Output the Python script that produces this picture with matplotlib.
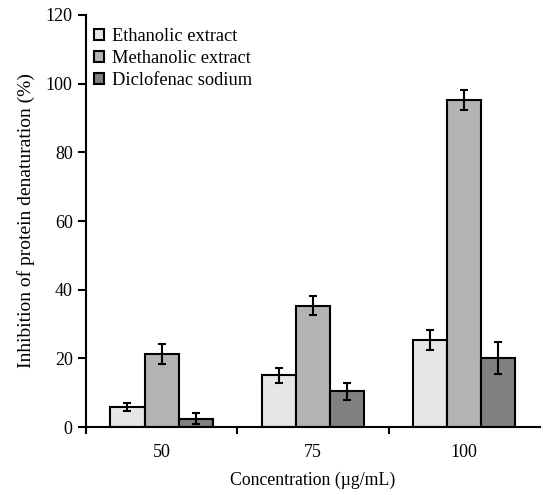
import numpy as np
import matplotlib.pyplot as plt

plt.rcParams['font.family'] = ['Liberation Serif', 'DejaVu Serif']

# data
concentrations = ["50", "75", "100"]
series = ["Ethanolic extract", "Methanolic extract", "Diclofenac sodium"]
ethanolic = [5.8, 15.1, 25.4]
methanolic = [21.3, 35.4, 95.2]
diclofenac = [2.5, 10.4, 20.1]
ethanolic_err = [1.1, 2.1, 2.9]
methanolic_err = [2.8, 2.8, 3.0]
diclofenac_err = [1.6, 2.6, 4.6]

colors = ["#e6e6e6", "#b3b3b3", "#808080"]

fig = plt.figure(figsize=(5.47, 4.95), dpi=100)
ax = fig.add_axes([0.157, 0.137, 0.83, 0.833])

x = np.arange(len(concentrations))
w = 0.225
values = [ethanolic, methanolic, diclofenac]
errors = [ethanolic_err, methanolic_err, diclofenac_err]

for i in range(3):
    ax.bar(x + (i - 1) * w, values[i], w, color=colors[i],
           edgecolor="black", linewidth=1.5, label=series[i],
           yerr=errors[i], capsize=2.8,
           error_kw=dict(elinewidth=1.5, capthick=1.5, ecolor="black"))

ax.set_xlim(-0.5, 2.5)
ax.set_ylim(0, 120)
ax.set_yticks(np.arange(0, 121, 20))
ax.set_xticks(x)
ax.set_xticklabels(concentrations)
ax.set_xticks([-0.5, 0.5, 1.5], minor=True)
ax.tick_params(axis="x", which="major", length=0, pad=12, labelsize=13)
ax.tick_params(axis="x", which="minor", length=5, width=1.5, direction="out")
ax.tick_params(axis="y", length=6, width=1.5, direction="out", labelsize=13)

for s in ["top", "right"]:
    ax.spines[s].set_visible(False)
for s in ["left", "bottom"]:
    ax.spines[s].set_linewidth(1.5)

ax.set_xlabel("Concentration (\u00b5g/mL)", fontsize=12.8, labelpad=8)
ax.set_ylabel("Inhibition of protein denaturation (%)", fontsize=14, labelpad=8)

ax.legend(loc="upper left", bbox_to_anchor=(-0.01, 1.0), frameon=False,
          fontsize=13.2, handlelength=0.55, handleheight=0.55,
          handletextpad=0.4, labelspacing=0.28, borderaxespad=0.3)

fig.savefig("out.png", dpi=100)
